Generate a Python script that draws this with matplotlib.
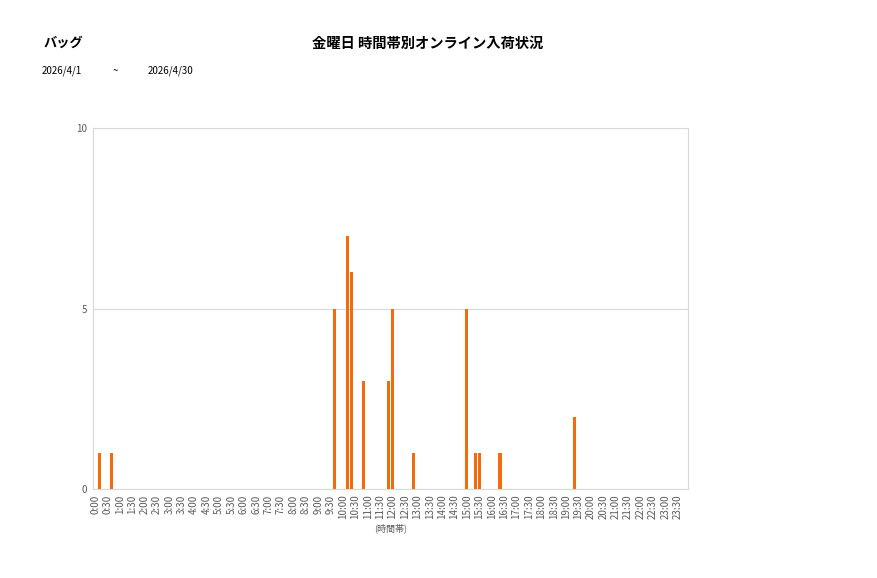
import matplotlib
matplotlib.use("Agg")
import matplotlib.pyplot as plt
import numpy as np

plt.rcParams['font.family'] = ['Noto Sans CJK JP', 'DejaVu Sans']

# 10-minute slots over one day
slot_labels = [f"{h}:{m:02d}" for h in range(24) for m in range(0, 60, 10)]
nonzero = {
    "0:10": 1, "0:40": 1, "9:40": 5, "10:10": 7, "10:20": 6, "10:50": 3,
    "11:50": 3, "12:00": 5, "12:50": 1, "15:00": 5, "15:20": 1, "15:30": 1,
    "16:20": 1, "19:20": 2,
}
values = [nonzero.get(s, 0) for s in slot_labels]
tick_labels = [f"{h}:{m:02d}" for h in range(24) for m in (0, 30)]

title = "金曜日 時間帯別オンライン入荷状況"
category = "バッグ"
date_from = "2026/4/1"
date_to = "2026/4/30"
xlabel = "(時間帯)"

fig = plt.figure(figsize=(8.77, 5.78), dpi=100)
ax = fig.add_axes([0.106, 0.154, 0.6785, 0.6245])

x = np.arange(len(slot_labels))
ax.bar(x, values, width=0.75, color='#F36C0C', zorder=3)
ax.set_xlim(-0.5, len(slot_labels) - 0.5)
ax.set_ylim(0, 10)
ax.set_yticks([0, 5, 10])
ax.yaxis.grid(True, color='#D9D9D9', linewidth=0.8, zorder=0)
tick_pos = [slot_labels.index(t) for t in tick_labels]
ax.set_xticks(tick_pos)
ax.set_xticklabels(tick_labels, rotation=90, fontsize=7, color='#595959')
ax.tick_params(axis='both', length=0, labelsize=7, colors='#595959', pad=4)
for s in ax.spines.values():
    s.set_color('#D9D9D9')
    s.set_linewidth(0.8)
ax.set_xlabel(xlabel, fontsize=6.5, color='#595959', labelpad=3)

fig.text(44/877, 1 - 43/578, category, fontsize=9.5, fontweight='bold', va='center', ha='left')
fig.text(428/877, 1 - 44/578, title, fontsize=10.3, fontweight='bold', va='center', ha='center')
fig.text(42/877, 1 - 71/578, date_from, fontsize=7, va='center', ha='left')
fig.text(113/877, 1 - 71/578, "~", fontsize=7, va='center', ha='left')
fig.text(148/877, 1 - 71/578, date_to, fontsize=7, va='center', ha='left')

fig.savefig("out.png", dpi=100)
